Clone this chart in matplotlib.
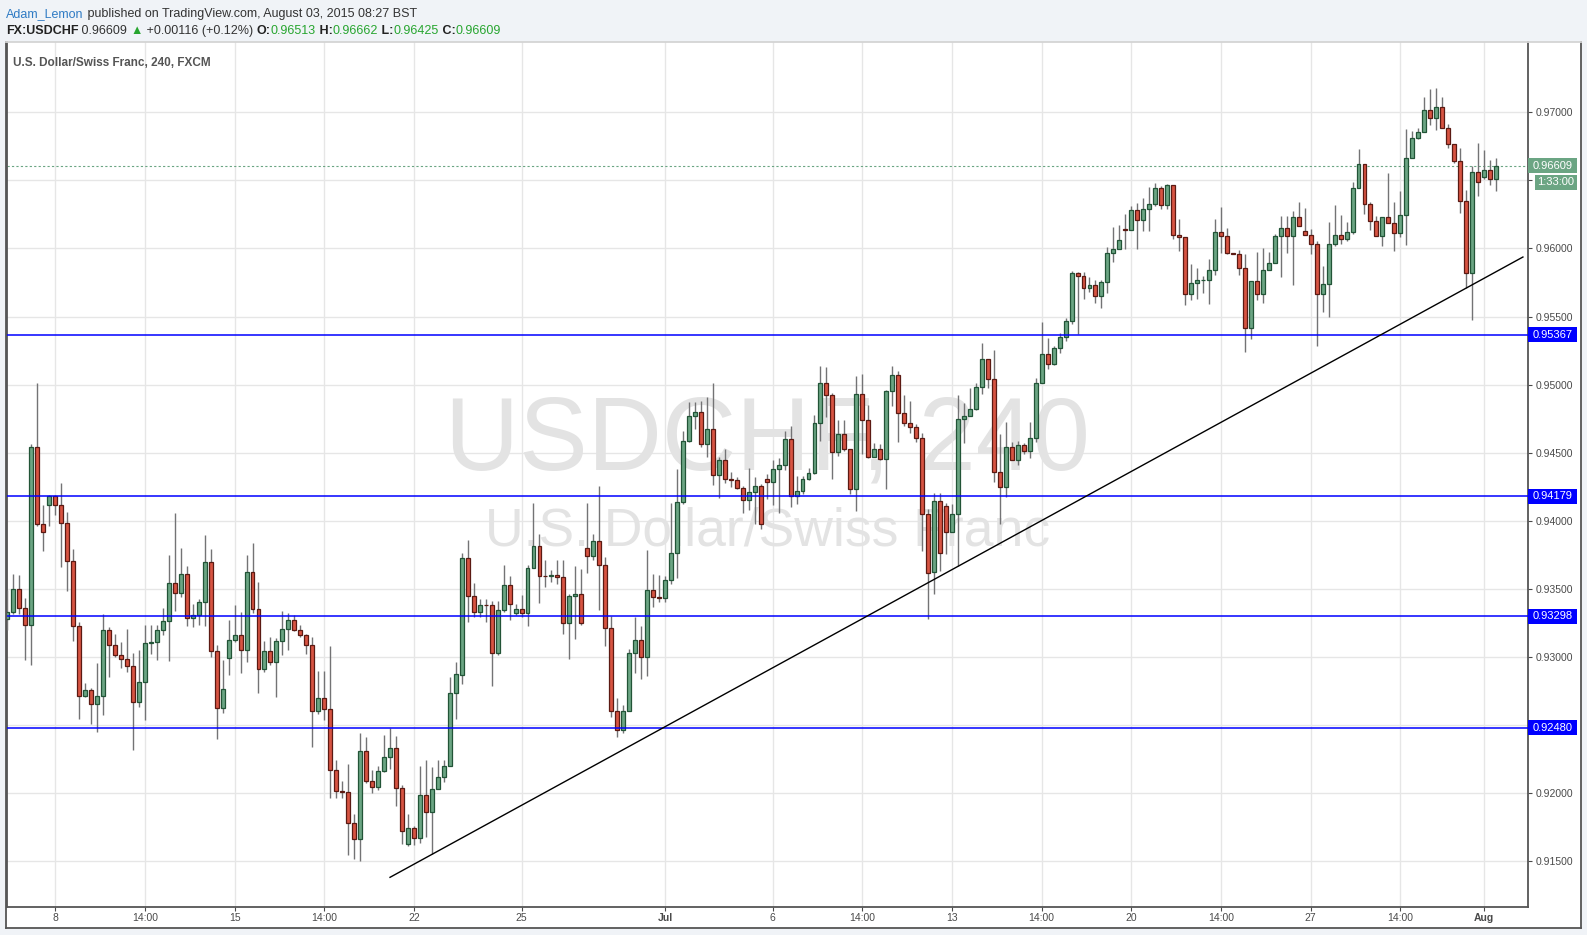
import matplotlib.pyplot as plt
import numpy as np
from matplotlib.patches import Rectangle
from matplotlib.lines import Line2D

plt.rcParams['font.family'] = ['Liberation Sans', 'DejaVu Sans']

# 4h bars, bar 0 = Mon 8 Jun 2015 (first visible bar is index -8)
first_bar = -8
opens = [
    0.93276, 0.93332, 0.93501, 0.93362, 0.93237, 0.94544, 0.93979, 0.94118, 0.94179, 0.94118,
    0.93986, 0.93707, 0.93230, 0.92715, 0.92759, 0.92657, 0.92715, 0.93200, 0.93090, 0.93017,
    0.92987, 0.92936, 0.92671, 0.92818, 0.93105, 0.93112, 0.93200, 0.93266, 0.93545, 0.93472,
    0.93611, 0.93288, 0.93308, 0.93406, 0.93700, 0.93043, 0.92627, 0.92989, 0.93121, 0.93158,
    0.93048, 0.93621, 0.93349, 0.92908, 0.93045, 0.92960, 0.93114, 0.93202, 0.93268, 0.93195,
    0.93158, 0.93084, 0.92600, 0.92695, 0.92614, 0.92166, 0.92012, 0.92005, 0.91780, 0.91660,
    0.92306, 0.92086, 0.92042, 0.92159, 0.92262, 0.92328, 0.92034, 0.91623, 0.91740, 0.91667,
    0.91983, 0.91858, 0.92027, 0.92115, 0.92196, 0.92732, 0.92865, 0.93729, 0.93450, 0.93333,
    0.93384, 0.93384, 0.93032, 0.93348, 0.93531, 0.93326, 0.93355, 0.93326, 0.93656, 0.93818,
    0.93597, 0.93592, 0.93605, 0.93590, 0.93252, 0.93450, 0.93465, 0.93803, 0.93744, 0.93854,
    0.93678, 0.93215, 0.92599, 0.92466, 0.92606, 0.93032, 0.93127, 0.93002, 0.93494, 0.93443,
    0.93436, 0.93568, 0.93766, 0.94141, 0.94589, 0.94772, 0.94802, 0.94564, 0.94674, 0.94337,
    0.94447, 0.94307, 0.94300, 0.94241, 0.94153, 0.94209, 0.94256, 0.94307, 0.94285, 0.94381,
    0.94412, 0.94601, 0.94180, 0.94219, 0.94307, 0.94351, 0.94718, 0.95012, 0.94924, 0.94503,
    0.94638, 0.94528, 0.94234, 0.94931, 0.94741, 0.94466, 0.94528, 0.94454, 0.94956, 0.95071,
    0.94792, 0.94718, 0.94692, 0.94608, 0.94050, 0.93624, 0.94145, 0.94108, 0.93917, 0.94050,
    0.94747, 0.94769, 0.94821, 0.94982, 0.95188, 0.95041, 0.94358, 0.94248, 0.94542, 0.94446,
    0.94556, 0.94512, 0.94608, 0.95012, 0.95225, 0.95151, 0.95269, 0.95350, 0.95467, 0.95817,
    0.95797, 0.95709, 0.95731, 0.95650, 0.95753, 0.95966, 0.95996, 0.96143, 0.96135, 0.96282,
    0.96209, 0.96290, 0.96326, 0.96444, 0.96316, 0.96463, 0.96096, 0.96081, 0.95663, 0.95744,
    0.95766, 0.95766, 0.95839, 0.96118, 0.96094, 0.95964, 0.95961, 0.95854, 0.95413, 0.95758,
    0.95663, 0.95839, 0.95890, 0.96089, 0.96147, 0.96089, 0.96228, 0.96125, 0.96096, 0.96030,
    0.95663, 0.95736, 0.96030, 0.96096, 0.96067, 0.96118, 0.96441, 0.96618, 0.96324, 0.96199,
    0.96089, 0.96228, 0.96184, 0.96111, 0.96244, 0.96662, 0.96809, 0.96853, 0.97015, 0.96956,
    0.97037, 0.96882, 0.96765, 0.96640, 0.96346, 0.95818, 0.96559, 0.96523, 0.96574, 0.96513,
]
highs = [
    0.93491, 0.93606, 0.93599, 0.93435, 0.94561, 0.95009, 0.94113, 0.94187, 0.94187, 0.94280,
    0.94067, 0.93795, 0.93259, 0.92811, 0.92769, 0.92953, 0.93313, 0.93222, 0.93171, 0.93112,
    0.93203, 0.93031, 0.93048, 0.93232, 0.93232, 0.93232, 0.93357, 0.93751, 0.94054, 0.93802,
    0.93670, 0.93391, 0.93428, 0.93893, 0.93790, 0.93085, 0.92975, 0.93270, 0.93381, 0.93329,
    0.93748, 0.93838, 0.93552, 0.93116, 0.93146, 0.93136, 0.93337, 0.93319, 0.93305, 0.93234,
    0.93165, 0.93146, 0.92896, 0.92896, 0.93080, 0.92242, 0.92088, 0.92213, 0.91846, 0.92438,
    0.92411, 0.92166, 0.92198, 0.92424, 0.92475, 0.92419, 0.92059, 0.91846, 0.91755, 0.92201,
    0.92242, 0.92191, 0.92242, 0.92242, 0.92850, 0.92962, 0.93764, 0.93857, 0.93541, 0.93428,
    0.93423, 0.93411, 0.93411, 0.93673, 0.93592, 0.93392, 0.93453, 0.93673, 0.94133, 0.93906,
    0.93710, 0.93637, 0.93715, 0.93715, 0.93465, 0.93666, 0.93644, 0.94133, 0.93906, 0.94253,
    0.93734, 0.93304, 0.92701, 0.92650, 0.93059, 0.93296, 0.93230, 0.93788, 0.93612, 0.93602,
    0.93597, 0.94133, 0.94383, 0.94662, 0.94875, 0.94875, 0.94878, 0.94907, 0.95012, 0.94466,
    0.94528, 0.94361, 0.94320, 0.94253, 0.94390, 0.94324, 0.94271, 0.94344, 0.94449, 0.94461,
    0.94657, 0.94699, 0.94332, 0.94332, 0.94390, 0.94780, 0.95135, 0.95130, 0.94939, 0.94743,
    0.94743, 0.94528, 0.95061, 0.95081, 0.94848, 0.94574, 0.94564, 0.94963, 0.95135, 0.95103,
    0.94927, 0.94880, 0.94711, 0.94643, 0.94087, 0.94204, 0.94204, 0.94130, 0.94123, 0.94924,
    0.94865, 0.94975, 0.95012, 0.95305, 0.95188, 0.95256, 0.94637, 0.94725, 0.94578, 0.94585,
    0.94571, 0.94725, 0.95048, 0.95460, 0.95342, 0.95281, 0.95379, 0.95489, 0.95832, 0.95824,
    0.95824, 0.95790, 0.95768, 0.95768, 0.96010, 0.96157, 0.96174, 0.96255, 0.96312, 0.96336,
    0.96373, 0.96451, 0.96480, 0.96456, 0.96471, 0.96463, 0.96214, 0.96081, 0.95886, 0.95859,
    0.95797, 0.95922, 0.96216, 0.96304, 0.96150, 0.95964, 0.95988, 0.95957, 0.95758, 0.95974,
    0.96006, 0.95974, 0.96103, 0.96236, 0.96236, 0.96275, 0.96341, 0.96297, 0.96140, 0.96052,
    0.95871, 0.96192, 0.96316, 0.96243, 0.96192, 0.96485, 0.96730, 0.96618, 0.96338, 0.96236,
    0.96228, 0.96551, 0.96338, 0.96425, 0.96875, 0.96863, 0.96882, 0.97115, 0.97171, 0.97179,
    0.97115, 0.96914, 0.96765, 0.96736, 0.96430, 0.96606, 0.96777, 0.96723, 0.96650, 0.96662,
]
lows = [
    0.93198, 0.93313, 0.93313, 0.92977, 0.92941, 0.93961, 0.93778, 0.93961, 0.94042, 0.93660,
    0.93484, 0.93117, 0.92542, 0.92703, 0.92507, 0.92449, 0.92573, 0.92855, 0.93002, 0.92916,
    0.92889, 0.92316, 0.92635, 0.92537, 0.93024, 0.92977, 0.93161, 0.92970, 0.93337, 0.93440,
    0.93227, 0.93222, 0.93232, 0.93227, 0.93002, 0.92395, 0.92591, 0.92869, 0.93111, 0.92884,
    0.92965, 0.93324, 0.92737, 0.92886, 0.92942, 0.92707, 0.93016, 0.93053, 0.93187, 0.93148,
    0.93023, 0.92340, 0.92578, 0.92539, 0.91961, 0.91961, 0.91961, 0.91542, 0.91513, 0.91498,
    0.92071, 0.91998, 0.92020, 0.92152, 0.92174, 0.91902, 0.91623, 0.91608, 0.91616, 0.91630,
    0.91674, 0.91550, 0.92027, 0.92083, 0.92196, 0.92546, 0.92799, 0.93257, 0.93296, 0.93296,
    0.93257, 0.92787, 0.93015, 0.93333, 0.93272, 0.93311, 0.93296, 0.93228, 0.93656, 0.93399,
    0.93514, 0.93551, 0.93538, 0.93169, 0.92985, 0.93132, 0.93237, 0.93617, 0.93710, 0.93348,
    0.93081, 0.92562, 0.92412, 0.92444, 0.92606, 0.92882, 0.92841, 0.92856, 0.93370, 0.93406,
    0.93406, 0.93539, 0.93583, 0.94126, 0.94581, 0.94677, 0.94545, 0.94466, 0.94266, 0.94165,
    0.94275, 0.94251, 0.94236, 0.94055, 0.94080, 0.93977, 0.93940, 0.94163, 0.94114, 0.94060,
    0.94373, 0.94102, 0.94124, 0.94195, 0.94300, 0.94344, 0.94584, 0.94763, 0.94307, 0.94479,
    0.94510, 0.94200, 0.94070, 0.94491, 0.94459, 0.94466, 0.94447, 0.94234, 0.94841, 0.94577,
    0.94699, 0.94643, 0.94577, 0.93781, 0.93279, 0.93462, 0.93629, 0.93756, 0.93917, 0.93665,
    0.94571, 0.94769, 0.94813, 0.94931, 0.94975, 0.94285, 0.93976, 0.94174, 0.94446, 0.94410,
    0.94490, 0.94461, 0.94576, 0.95012, 0.95114, 0.95144, 0.95232, 0.95318, 0.95445, 0.95371,
    0.95629, 0.95682, 0.95599, 0.95562, 0.95673, 0.95900, 0.95996, 0.95996, 0.96135, 0.95996,
    0.96128, 0.96128, 0.96309, 0.96290, 0.96287, 0.96067, 0.95983, 0.95587, 0.95624, 0.95631,
    0.95670, 0.95594, 0.95802, 0.95964, 0.95957, 0.95960, 0.95807, 0.95242, 0.95337, 0.95624,
    0.95602, 0.95839, 0.95890, 0.95788, 0.95969, 0.95729, 0.96162, 0.96096, 0.95961, 0.95286,
    0.95535, 0.95499, 0.96015, 0.96030, 0.96052, 0.96103, 0.96441, 0.96250, 0.96133, 0.96089,
    0.96020, 0.96184, 0.95979, 0.96082, 0.96028, 0.96662, 0.96804, 0.96853, 0.96907, 0.96870,
    0.96882, 0.96736, 0.96630, 0.96258, 0.95707, 0.95475, 0.96383, 0.96508, 0.96466, 0.96425,
]
closes = [
    0.93332, 0.93501, 0.93362, 0.93237, 0.94544, 0.93979, 0.93920, 0.94179, 0.94118, 0.93986,
    0.93707, 0.93230, 0.92715, 0.92759, 0.92657, 0.92715, 0.93200, 0.93090, 0.93017, 0.92987,
    0.92936, 0.92671, 0.92818, 0.93105, 0.93112, 0.93200, 0.93266, 0.93545, 0.93472, 0.93611,
    0.93288, 0.93308, 0.93406, 0.93700, 0.93043, 0.92627, 0.92767, 0.93121, 0.93158, 0.93048,
    0.93621, 0.93349, 0.92908, 0.93045, 0.92960, 0.93114, 0.93202, 0.93268, 0.93195, 0.93158,
    0.93084, 0.92600, 0.92695, 0.92614, 0.92166, 0.92012, 0.92005, 0.91780, 0.91660, 0.92306,
    0.92086, 0.92042, 0.92159, 0.92262, 0.92328, 0.92034, 0.91718, 0.91740, 0.91667, 0.91983,
    0.91858, 0.92027, 0.92115, 0.92196, 0.92732, 0.92871, 0.93729, 0.93450, 0.93333, 0.93384,
    0.93379, 0.93032, 0.93348, 0.93531, 0.93392, 0.93355, 0.93326, 0.93656, 0.93818, 0.93597,
    0.93592, 0.93605, 0.93590, 0.93252, 0.93450, 0.93465, 0.93252, 0.93744, 0.93854, 0.93678,
    0.93215, 0.92599, 0.92466, 0.92606, 0.93032, 0.93127, 0.93002, 0.93494, 0.93443, 0.93436,
    0.93568, 0.93766, 0.94141, 0.94589, 0.94772, 0.94802, 0.94564, 0.94674, 0.94337, 0.94447,
    0.94307, 0.94300, 0.94241, 0.94153, 0.94209, 0.94256, 0.93977, 0.94285, 0.94381, 0.94412,
    0.94601, 0.94180, 0.94219, 0.94307, 0.94351, 0.94718, 0.95012, 0.94924, 0.94503, 0.94638,
    0.94528, 0.94234, 0.94931, 0.94741, 0.94466, 0.94528, 0.94454, 0.94956, 0.95071, 0.94792,
    0.94718, 0.94692, 0.94608, 0.94050, 0.93617, 0.94145, 0.93763, 0.93917, 0.94050, 0.94747,
    0.94769, 0.94821, 0.94982, 0.95188, 0.95041, 0.94358, 0.94248, 0.94542, 0.94446, 0.94556,
    0.94512, 0.94608, 0.95012, 0.95225, 0.95151, 0.95269, 0.95350, 0.95467, 0.95817, 0.95797,
    0.95709, 0.95731, 0.95650, 0.95753, 0.95966, 0.95996, 0.96062, 0.96135, 0.96282, 0.96209,
    0.96290, 0.96326, 0.96444, 0.96319, 0.96463, 0.96096, 0.96081, 0.95663, 0.95744, 0.95766,
    0.95768, 0.95839, 0.96118, 0.96094, 0.95964, 0.95961, 0.95854, 0.95413, 0.95758, 0.95663,
    0.95839, 0.95890, 0.96089, 0.96147, 0.96089, 0.96228, 0.96162, 0.96096, 0.96030, 0.95663,
    0.95736, 0.96030, 0.96096, 0.96067, 0.96118, 0.96441, 0.96618, 0.96324, 0.96199, 0.96089,
    0.96228, 0.96184, 0.96111, 0.96244, 0.96662, 0.96809, 0.96853, 0.97015, 0.96956, 0.97037,
    0.96882, 0.96765, 0.96640, 0.96346, 0.95818, 0.96559, 0.96486, 0.96574, 0.96513, 0.96609,
]

tick_pos = [0, 15, 30, 45, 60, 78, 102, 120, 135, 150, 165, 180, 195, 210, 225, 239]
tick_text = ['8', '14:00', '15', '14:00', '22', '25', 'Jul', '6', '14:00', '13',
             '14:00', '20', '14:00', '27', '14:00', 'Aug']
price_ticks = [0.915, 0.920, 0.925, 0.930, 0.935, 0.940, 0.945, 0.950, 0.955, 0.960, 0.965, 0.970]

levels = [0.95367, 0.94179, 0.93298, 0.92480]   # horizontal S/R lines
trend_x = [56.0, 245.5]                          # rising trend line
trend_y = [0.91381, 0.95937]
last_price = 0.96609
countdown = '1:33:00'

GREEN, GREEN_EDGE = '#6ba583', '#225437'
RED, RED_EDGE = '#d75442', '#5b1a13'
BLUE = '#0000ff'
TXT = '#4a4a4a'

W, H = 1587, 935
fig = plt.figure(figsize=(W / 100, H / 100), dpi=100, facecolor='#f0f3f7')


def fx(px):
    return px / W


def fy(py):
    return 1 - py / H


# white chart panel with its frame (drawn under the axes)
fig.patches.append(Rectangle((fx(6), fy(928)), fx(1581) - fx(6), fy(42) - fy(928),
                             transform=fig.transFigure, facecolor='white', edgecolor='none', zorder=-5))
for xs, ys, col in [([6, 6], [42, 928], '#555555'), ([6, 1581], [928, 928], '#555555'),
                    ([1581, 1581], [42, 928], '#555555'), ([6, 1581], [42, 42], '#d4d4d4')]:
    fig.add_artist(Line2D([fx(v) for v in xs], [fy(v) for v in ys], transform=fig.transFigure,
                          color=col, lw=1.3, zorder=6))

ax = fig.add_axes([fx(6.5), fy(907), fx(1527.7) - fx(6.5), fy(42) - fy(907)])
ax.set_facecolor('white')
ax.set_xlim(-8.15, 246.3)
ax.set_ylim(0.91163, 0.975163)

# candles
idx = np.arange(first_bar, first_bar + len(opens))
o, hi, lo, c = (np.array(v) for v in (opens, highs, lows, closes))
up = c >= o
ax.vlines(idx, lo, hi, color='#737375', lw=1, zorder=3)
body_lo = np.minimum(o, c)
body_h = np.maximum(np.abs(c - o), 0.00003)
ax.bar(idx[up], body_h[up], bottom=body_lo[up], width=0.66, color=GREEN,
       edgecolor=GREEN_EDGE, lw=0.9, zorder=4)
ax.bar(idx[~up], body_h[~up], bottom=body_lo[~up], width=0.66, color=RED,
       edgecolor=RED_EDGE, lw=0.9, zorder=4)

# drawings
for lv in levels:
    ax.axhline(lv, color=BLUE, lw=1.1, zorder=5)
ax.plot(trend_x, trend_y, color='black', lw=1, zorder=5)
ax.axhline(last_price, color=GREEN, lw=0.8, ls=(0, (2, 2)), zorder=2)

# watermark
ax.text(0.5, 0.536, 'USDCHF, 240', transform=ax.transAxes, ha='center', va='center',
        fontsize=74, color='#e3e3e3', zorder=1)
ax.text(0.5, 0.434, 'U.S. Dollar/Swiss Franc', transform=ax.transAxes, ha='center', va='center',
        fontsize=38.5, color='#e3e3e3', zorder=1)
fig.text(fx(13), fy(66), 'U.S. Dollar/Swiss Franc, 240, FXCM', fontsize=8.5,
         fontweight='bold', color='#555555')

# axes styling
ax.set_xticks(tick_pos)
ax.set_xticklabels(tick_text)
for lab in ax.get_xticklabels():
    if lab.get_text() in ('Jul', 'Aug'):
        lab.set_fontweight('bold')
ax.set_yticks(price_ticks)
ax.set_yticklabels([f'{p:.5f}' for p in price_ticks])
ax.yaxis.tick_right()
ax.tick_params(axis='x', labelsize=7.5, colors=TXT, length=3, pad=1.5)
ax.tick_params(axis='y', labelsize=7.5, colors=TXT, length=3, pad=3)
ax.grid(True, color='#e6e6e6', lw=1)
ax.set_axisbelow(True)
for side in ('left', 'bottom', 'right'):
    ax.spines[side].set_color('#555555')
    ax.spines[side].set_linewidth(1.3)
ax.spines['top'].set_visible(False)


# price tags on the right axis
def tag(y_px, text, bg, x0=1528, x1=1577, h=15):
    fig.patches.append(Rectangle((fx(x0), fy(y_px + h / 2)), fx(x1) - fx(x0), h / H,
                                 transform=fig.transFigure, facecolor=bg, edgecolor='none', zorder=10))
    fig.text(fx((x0 + x1) / 2), fy(y_px), text, ha='center', va='center', fontsize=8,
             color='white', zorder=11)


def price_px(p):
    return H - ax.transData.transform((0, p))[1]


for lv in levels:
    tag(price_px(lv), f'{lv:.5f}', BLUE)
tag(price_px(last_price), f'{last_price:.5f}', GREEN)
tag(price_px(last_price) + 16.5, countdown, GREEN, x0=1535)
# the 0.92500 / 0.96500 labels sit under the tags in the reference
for lab in ax.get_yticklabels():
    if lab.get_text() in ('0.92500', '0.96500'):
        lab.set_visible(False)

# header lines
renderer = fig.canvas.get_renderer()


def chain(x, y, parts, size=9):
    for s, col, wt in parts:
        t = fig.text(fx(x), fy(y), s, color=col, fontsize=size, fontweight=wt, va='baseline')
        x += t.get_window_extent(renderer).width


chain(6, 17, [('Adam_Lemon', '#2f7bc4', 'normal'),
              (' published on TradingView.com, August 03, 2015 08:27 BST', '#333333', 'normal')])
UPC = '#27a52f'
chain(6, 34, [('FX:USDCHF', '#222222', 'bold'), (' 0.96609 ', '#333333', 'normal'),
              ('\u25b2', UPC, 'normal'), (' +0.00116 (+0.12%) ', '#333333', 'normal'),
              ('O:', '#222222', 'bold'), ('0.96513', UPC, 'normal'),
              (' H:', '#222222', 'bold'), ('0.96662', UPC, 'normal'),
              (' L:', '#222222', 'bold'), ('0.96425', UPC, 'normal'),
              (' C:', '#222222', 'bold'), ('0.96609', UPC, 'normal')])

fig.savefig('out.png', dpi=100, facecolor=fig.get_facecolor())
